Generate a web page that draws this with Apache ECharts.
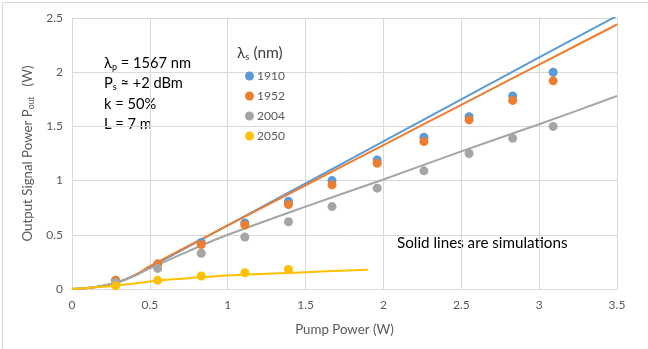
<!DOCTYPE html>
<html><head><meta charset="utf-8">
<script src="https://cdn.jsdelivr.net/npm/echarts@6/dist/echarts.min.js"></script>
<style>html,body{margin:0;padding:0;background:#fff}#c{width:648px;height:349px}</style>
</head><body><div id="c"></div>
<script>
// Experimental data
const pumpX   = [0.28,0.55,0.83,1.11,1.39,1.67,1.96,2.26,2.55,2.83,3.09];
const exp1910 = [0.08,0.23,0.43,0.61,0.81,1.00,1.19,1.40,1.59,1.78,2.00];
const exp1952 = [0.08,0.23,0.41,0.59,0.78,0.96,1.16,1.36,1.56,1.74,1.92];
const exp2004 = [0.06,0.19,0.33,0.48,0.62,0.76,0.93,1.09,1.25,1.39,1.50];
const pumpX2050 = [0.28,0.55,0.83,1.11,1.39];
const exp2050 = [0.03,0.08,0.12,0.15,0.18];
// Simulations
const simX    = [0,0.1,0.2,0.3,0.4,0.5,0.75,1,1.5,2,2.5,3,3.5];
const sim1910 = [0,0.01,0.03,0.065,0.125,0.2,0.394,0.588,0.975,1.362,1.749,2.136,2.52];
const sim1952 = [0,0.01,0.03,0.065,0.125,0.21,0.40,0.586,0.957,1.328,1.699,2.07,2.44];
const sim2004 = [0,0.01,0.03,0.065,0.12,0.19,0.35,0.50,0.76,1.01,1.27,1.52,1.78];
const simX2050 = [0,0.1,0.2,0.3,0.4,0.55,0.75,1,1.25,1.5,1.9];
const sim2050  = [0,0.01,0.02,0.035,0.05,0.078,0.1,0.125,0.14,0.155,0.178];
const names = ['1910','1952','2004','2050'];
const colors = ['#5B9BD5','#ED7D31','#A5A5A5','#FFC000'];

const zip = (xs, ys) => xs.map((x,i)=>[x,ys[i]]);
const FONT = 'Lato';
const chart = echarts.init(document.getElementById('c'));
const simSets = [[simX,sim1910],[simX,sim1952],[simX,sim2004],[simX2050,sim2050]];
const expSets = [[pumpX,exp1910],[pumpX,exp1952],[pumpX,exp2004],[pumpX2050,exp2050]];
const series = [];
simSets.forEach((s,i)=>series.push({type:'line',name:'sim'+names[i],data:zip(s[0],s[1]),showSymbol:false,smooth:0.3,
  lineStyle:{width:2,color:colors[i]},itemStyle:{color:colors[i]},clip:true,z:2}));
expSets.forEach((s,i)=>series.push({type:'scatter',name:names[i],data:zip(s[0],s[1]),symbolSize:9,
  itemStyle:{color:colors[i],opacity:1},z:3}));

chart.setOption({
  animation:false,
  textStyle:{fontFamily:FONT},
  grid:{left:72,right:31,top:18,bottom:60},
  xAxis:{type:'value',min:0,max:3.5,interval:0.5,
    axisLine:{show:true,lineStyle:{color:'#d9d9d9'}},axisTick:{show:false},
    splitLine:{show:true,lineStyle:{color:'#d9d9d9'}},
    axisLabel:{color:'#595959',fontSize:12,margin:10,fontFamily:FONT},
    name:'Pump Power (W)',nameLocation:'middle',nameGap:34,
    nameTextStyle:{color:'#595959',fontSize:13.3,fontFamily:FONT}},
  yAxis:{type:'value',min:0,max:2.5,interval:0.5,
    axisLine:{show:false},axisTick:{show:false},
    splitLine:{show:true,lineStyle:{color:'#d9d9d9'}},
    axisLabel:{color:'#595959',fontSize:12,margin:9,fontFamily:FONT},
    name:'Output Signal Power P{s|out}   (W)',nameLocation:'middle',nameGap:35,nameRotate:90,
    nameTextStyle:{color:'#595959',fontSize:13.3,fontFamily:FONT,
      rich:{s:{fontSize:8.5,verticalAlign:'bottom',padding:[7,0,0,0],color:'#595959',fontFamily:FONT}}}},
  legend:{data:names,orient:'vertical',left:240,top:65,itemGap:8,itemWidth:9,itemHeight:9,
    icon:'circle',textStyle:{color:'#595959',fontSize:12,fontFamily:FONT,padding:[0,0,0,-2]}},
  graphic:[
    {type:'rect',left:0,top:0,shape:{width:646,height:347},style:{fill:'none',stroke:'#d9d9d9',lineWidth:1},silent:true},
    {type:'text',left:237,top:45,style:{text:'λ{s|s} (nm)',fill:'#404040',font:'15.5px '+FONT,
      rich:{s:{fontSize:9.5,padding:[7,0,0,0],fill:'#404040',fontFamily:FONT}}}},
    {type:'text',left:104,top:53,style:{text:'λ{s|p} = 1567 nm\nP{s|s} ≈ +2 dBm\nk = 50%\nL = 7 m',fill:'#000',
      font:'14.67px '+FONT,lineHeight:20.5,rich:{s:{fontSize:9,padding:[7,0,0,0],fill:'#000',fontFamily:FONT}}}},
    {type:'text',left:397,top:236,style:{text:'Solid lines are simulations',fill:'#000',font:'15.2px '+FONT}}
  ],
  series:series
});
</script></body></html>
